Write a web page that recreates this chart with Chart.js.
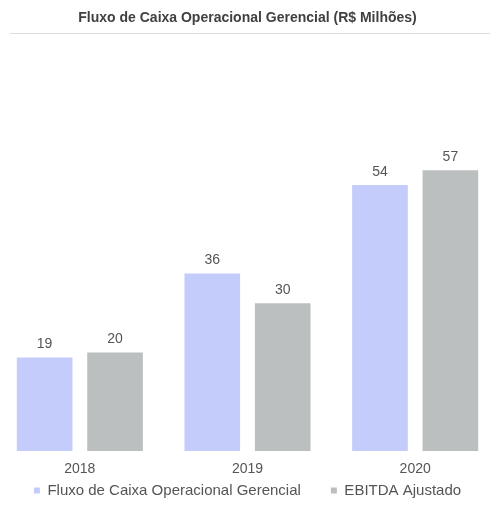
<!DOCTYPE html>
<html>
<head>
<meta charset="utf-8">
<script src="https://cdn.jsdelivr.net/npm/chart.js@4.4.1/dist/chart.umd.min.js"></script>
<style>
  html, body { margin: 0; padding: 0; background: #fff; overflow: hidden; width: 490px; height: 507px; }
  #wrap { position: absolute; left: -4px; top: 0; width: 503px; height: 507px; }
</style>
</head>
<body>
<div id="wrap"><canvas id="c_fluxo"></canvas></div>
<script>
// ── dados ─────────────────────────────────────────────
const anos   = ['2018', '2019', '2020'];
const fluxo  = [19, 36, 54];
const ebitda = [20, 30, 57];

const AZUL  = '#c4ccfb';
const CINZA = '#bcbfbf';
const TXT   = '#555555';

Chart.defaults.font.family = "'Liberation Sans', Arial, sans-serif";
Chart.defaults.color = TXT;

// rótulos de valor em cima das barras
const valorLabels = {
  id: 'valorLabels',
  afterDatasetsDraw(chart) {
    const ctx = chart.ctx;
    ctx.save();
    ctx.font = "14px 'Liberation Sans', Arial, sans-serif";
    ctx.fillStyle = TXT;
    ctx.textAlign = 'center';
    ctx.textBaseline = 'bottom';
    chart.data.datasets.forEach((ds, i) => {
      chart.getDatasetMeta(i).data.forEach((bar, j) => {
        ctx.fillText(ds.data[j], bar.x, bar.y - 6);
      });
    });
    ctx.restore();
  },
};

// linha fina abaixo do título
const linhaTitulo = {
  id: 'linhaTitulo',
  afterDraw(chart) {
    const ctx = chart.ctx;
    ctx.save();
    ctx.strokeStyle = '#dcdcdc';
    ctx.lineWidth = 1;
    ctx.beginPath();
    ctx.moveTo(14, 33.5);
    ctx.lineTo(494, 33.5);
    ctx.stroke();
    ctx.restore();
  },
};

new Chart(document.getElementById('c_fluxo'), {
  type: 'bar',
  data: {
    labels: anos,
    datasets: [
      {
        label: 'Fluxo de Caixa Operacional Gerencial',
        data: fluxo,
        backgroundColor: AZUL,
        categoryPercentage: 0.84,
        barPercentage: 0.79,
      },
      {
        label: 'EBITDA Ajustado',
        data: ebitda,
        backgroundColor: CINZA,
        categoryPercentage: 0.84,
        barPercentage: 0.79,
      },
    ],
  },
  options: {
    responsive: true,
    maintainAspectRatio: false,
    animation: false,
    layout: {padding: {bottom: 0}},
    plugins: {
      title: {
        display: true,
        text: 'Fluxo de Caixa Operacional Gerencial (R$ Milhões)',
        color: '#404040',
        font: {size: 14, weight: 'bold'},
        padding: {top: 10, bottom: 30},
      },
      legend: {
        position: 'bottom',
        maxHeight: 29,
        labels: {
          boxWidth: 6,
          boxHeight: 6,
          padding: 5,
          color: TXT,
          font: {size: 15},
          // espaço extra entre os dois itens da legenda
          generateLabels: chart => Chart.defaults.plugins.legend.labels.generateLabels(chart)
            .map((l, i) => (i === 0 ? {...l, text: l.text + '      '} : l)),
        },
      },
      tooltip: {enabled: false},
    },
    scales: {
      x: {
        grid: {display: false, drawTicks: false},
        border: {display: false},
        ticks: {padding: 10, color: TXT, font: {size: 14}},
        afterFit: scale => { scale.height = 27; },
      },
      y: {
        display: false,
        min: 0,
        max: 80,
      },
    },
  },
  plugins: [valorLabels, linhaTitulo],
});
</script>
</body>
</html>
